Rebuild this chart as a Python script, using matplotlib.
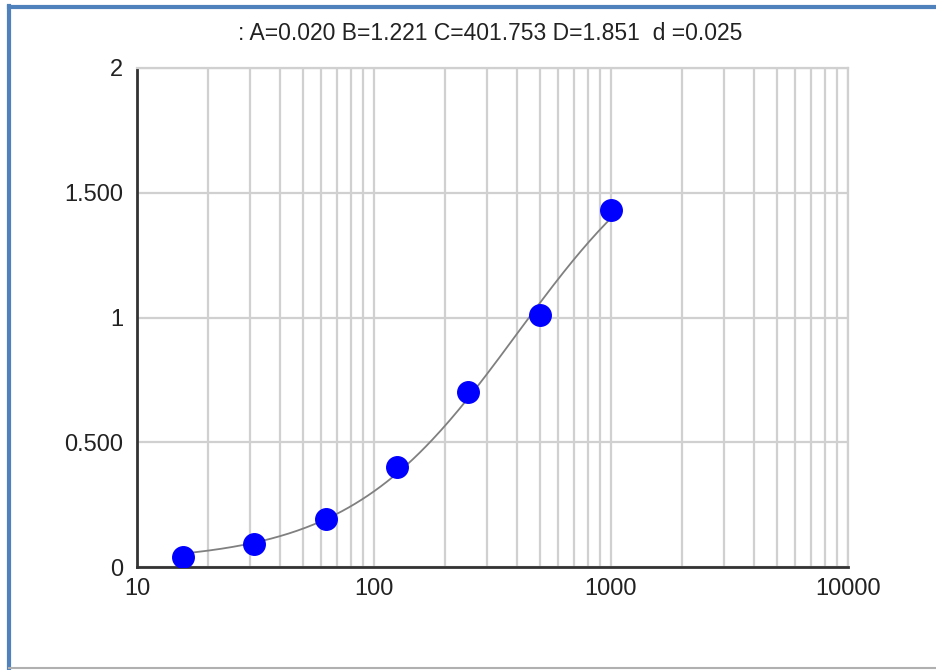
import matplotlib
matplotlib.use("Agg")
import matplotlib.pyplot as plt
import matplotlib.ticker as mticker
import numpy as np

# standard points (concentration, OD)
conc = [15.625, 31.25, 62.5, 125, 250, 500, 1000]
od = [0.040, 0.092, 0.192, 0.401, 0.701, 1.010, 1.431]

# 4PL fit parameters shown in the title
A, B, C, D = 0.020, 1.221, 401.753, 1.851
title_txt = ": A=0.020 B=1.221 C=401.753 D=1.851  d =0.025"

ytick_vals = [0, 0.5, 1, 1.5, 2]
ytick_labels = ["0", "0.500", "1", "1.500", "2"]
xtick_vals = [10, 100, 1000, 10000]
xtick_labels = ["10", "100", "1000", "10000"]

plt.rcParams['font.family'] = ['Liberation Sans', 'DejaVu Sans']

fig = plt.figure(figsize=(9.36, 6.70), dpi=100)
fig.patch.set_facecolor('white')

# window frame: blue on top/left, grey at bottom
fig.add_artist(plt.Line2D([0.0095, 0.0095], [0, 0.991], transform=fig.transFigure, color='#4f81bd', lw=3))
fig.add_artist(plt.Line2D([0.0095, 1], [0.989, 0.989], transform=fig.transFigure, color='#4f81bd', lw=3))
fig.add_artist(plt.Line2D([0.0095, 1], [0.003, 0.003], transform=fig.transFigure, color='#b0b0b0', lw=1.5))

ax = fig.add_axes([137/936, (670-567)/670, 711/936, 499/670])
ax.set_xscale('log')
ax.set_xlim(10, 10000)
ax.set_ylim(0, 2)

xs = np.logspace(np.log10(conc[0]), np.log10(conc[-1]), 200)
fit = D + (A - D) / (1 + (xs / C) ** B)
ax.plot(xs, fit, color='#808080', lw=1.3, zorder=3)
ax.plot(conc, od, 'o', color='#0000ff', markersize=15.5, zorder=4)

ax.set_yticks(ytick_vals)
ax.set_yticklabels(ytick_labels)
ax.set_xticks(xtick_vals)
ax.set_xticklabels(xtick_labels)
ax.xaxis.set_minor_locator(mticker.LogLocator(base=10, subs=np.arange(2, 10)))
ax.xaxis.set_minor_formatter(mticker.NullFormatter())
ax.tick_params(axis='both', which='both', length=0, labelsize=17, colors='#222222')
ax.tick_params(axis='y', pad=10)
ax.tick_params(axis='x', pad=8)

ax.grid(True, which='both', axis='x', color='#d0d0d0', lw=1.6)
ax.grid(True, which='major', axis='y', color='#d0d0d0', lw=1.6)
ax.set_axisbelow(True)

for s in ['top', 'right']:
    ax.spines[s].set_color('#d0d0d0')
    ax.spines[s].set_linewidth(1.6)
for s in ['left', 'bottom']:
    ax.spines[s].set_color('#333333')
    ax.spines[s].set_linewidth(2)

fig.text(490/936, 1 - 33/670, title_txt, ha='center', va='center', fontsize=16.5, color='#222222')

fig.savefig('out.png', dpi=100)
